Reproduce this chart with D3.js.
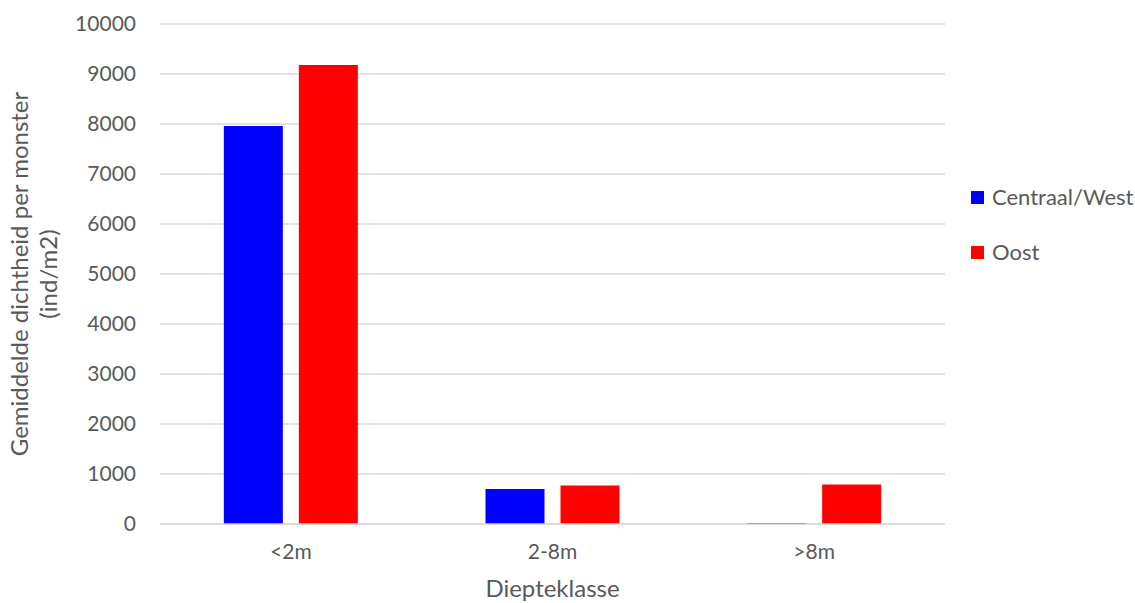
<!DOCTYPE html>
<html>
<head>
<meta charset="utf-8">
<script src="https://cdn.jsdelivr.net/npm/d3@7"></script>
<style>
  html, body { margin: 0; padding: 0; background: #fff; }
  svg { display: block; }
  text { font-family: "Lato", "Open Sans", sans-serif; fill: #595959; }
</style>
</head>
<body>
<svg id="chart" width="1135" height="603"></svg>
<script>
// Mean density per sample by depth class
const categories = ["<2m", "2-8m", ">8m"];
const seriesNames = ["Centraal/West", "Oost"];
const centraalWest = [7960, 700, 20];
const oost = [9180, 770, 790];
const yTicks = [0, 1000, 2000, 3000, 4000, 5000, 6000, 7000, 8000, 9000, 10000];
const colors = ["#0000ff", "#ff0000"];

const svg = d3.select("#chart");
const plot = { left: 160, right: 945, top: 24, bottom: 524 };

const y = d3.scaleLinear().domain([0, 10000]).range([plot.bottom, plot.top]);
const x0 = d3.scaleBand().domain(categories).range([plot.left, plot.right]);
const groupW = 134;
const bw = x0.bandwidth();
const x1 = d3.scaleBand().domain(seriesNames)
  .range([(bw - groupW) / 2, (bw + groupW) / 2])
  .paddingInner(16 / 75);

// Gridlines
svg.append("g")
  .selectAll("line")
  .data(yTicks)
  .join("line")
  .attr("x1", plot.left).attr("x2", plot.right)
  .attr("y1", d => y(d)).attr("y2", d => y(d))
  .attr("stroke", "#d9d9d9").attr("stroke-width", 1.3);

// Y axis tick labels
const yAxis = d3.axisLeft(y).tickValues(yTicks).tickSize(0).tickPadding(0).tickFormat(d3.format("d"));
const gy = svg.append("g").attr("transform", `translate(${136},0)`).call(yAxis);
gy.select(".domain").remove();
gy.selectAll("text").style("font-size", "21px").attr("fill", "#595959")
  .style("font-family", "Lato, 'Open Sans', sans-serif");

// Bars
const data = categories.map((c, i) => ({ cat: c, values: [centraalWest[i], oost[i]] }));
const groups = svg.append("g").selectAll("g")
  .data(data).join("g")
  .attr("transform", d => `translate(${x0(d.cat)},0)`);
groups.selectAll("rect")
  .data(d => d.values.map((v, j) => ({ name: seriesNames[j], v, j })))
  .join("rect")
  .attr("x", d => x1(d.name))
  .attr("width", x1.bandwidth())
  .attr("y", d => y(d.v))
  .attr("height", d => y(0) - y(d.v))
  .attr("fill", d => colors[d.j]);

// Baseline over bars
svg.append("line")
  .attr("x1", plot.left).attr("x2", plot.right)
  .attr("y1", y(0)).attr("y2", y(0))
  .attr("stroke", "#d9d9d9").attr("stroke-width", 1.3);

// X axis labels
const xAxis = d3.axisBottom(x0).tickSize(0).tickPadding(0);
const gx = svg.append("g").attr("transform", `translate(0,${544})`).call(xAxis);
gx.select(".domain").remove();
gx.selectAll("text").style("font-size", "21px").attr("fill", "#595959")
  .style("font-family", "Lato, 'Open Sans', sans-serif");

// Axis titles
svg.append("text")
  .attr("x", (plot.left + plot.right) / 2).attr("y", 597)
  .attr("text-anchor", "middle").style("font-size", "24px")
  .text("Diepteklasse");

const yt = svg.append("text")
  .attr("transform", `translate(0,${(plot.top + plot.bottom) / 2}) rotate(-90)`)
  .attr("text-anchor", "middle").style("font-size", "24px");
yt.append("tspan").attr("x", 0).attr("y", 28).text("Gemiddelde dichtheid per monster");
yt.append("tspan").attr("x", 0).attr("y", 57).text("(ind/m2)");

// Legend
const legend = svg.append("g").selectAll("g")
  .data(seriesNames).join("g")
  .attr("transform", (d, i) => `translate(971,${191 + i * 55})`);
legend.append("rect").attr("width", 13).attr("height", 13).attr("fill", (d, i) => colors[i]);
legend.append("text").attr("x", 21).attr("y", 14).style("font-size", "22px").text(d => d);
</script>
</body>
</html>
